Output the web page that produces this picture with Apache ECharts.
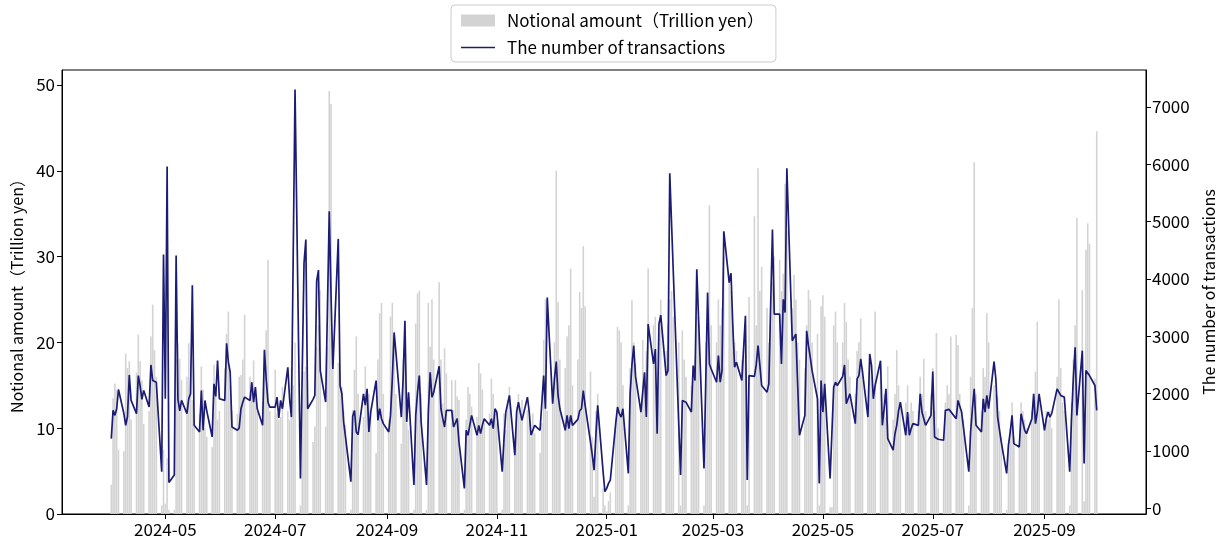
<!DOCTYPE html>
<html>
<head>
<meta charset="utf-8">
<script src="https://cdn.jsdelivr.net/npm/echarts@6/dist/echarts.min.js"></script>
<style>
  html, body { margin: 0; padding: 0; background: #fff; }
  #chart { width: 1219px; height: 541px; }
</style>
</head>
<body>
<div id="chart"></div>
<script>
// Business days from this start date (one value per weekday)
const startDate = [2024, 4, 1];

// Notional amount (Trillion yen), one value per business day
const notional = [
  3.4, 13.5, 15.2, 14.5, 7.5,   7.3, 18.7, 17.0, 17.8, 11.0,   16.5, 20.9, 17.8, 15.6, 10.5,   12.0, 20.7, 24.4, 19.1, 16.0,
  1.0, 7.5, 1.2, 6.5, 0.5,      0.5, 18.0, 19.9, 18.1, 15.6,   16.0, 19.9, 18.0, 13.3, 11.0,   11.7, 17.2, 14.5, 10.0, 9.0,
  7.8, 17.4, 14.0, 11.0, 12.0,  17.0, 21.0, 23.6, 15.0, 12.0,  11.7, 16.0, 16.2, 18.0, 23.2,   16.0, 14.0, 17.9, 13.7, 12.0,
  13.0, 16.6, 21.4, 29.6, 12.0, 16.8, 11.7, 11.0, 11.3, 14.8,  12.0, 11.0, 17.0, 15.0, 20.0,   1.0, 14.0, 16.6, 17.2, 13.0,
  8.4, 10.2, 19.5, 22.0, 26.1,  10.2, 19.5, 49.3, 47.8, 18.0,  17.6, 16.6, 14.8, 12.0, 10.4,   0.5, 12.1, 16.8, 20.7, 14.0,
  11.3, 17.2, 13.7, 14.0, 12.1, 7.1, 18.0, 23.4, 24.6, 14.0,   11.0, 23.0, 24.6, 20.3, 14.0,   8.2, 18.0, 21.4, 10.6, 9.8,
  0.5, 22.2, 25.7, 26.0, 14.0,  0.5, 24.6, 19.5, 25.0, 18.0,   27.0, 18.0, 12.9, 19.3, 16.4,   15.6, 12.1, 15.6, 13.7, 13.3,
  0.5, 11.0, 14.8, 14.0, 12.5,  11.3, 17.6, 16.4, 14.5, 11.0,  11.7, 15.8, 14.0, 11.7, 10.6,   0.5, 11.7, 9.8, 13.3, 14.8,
  9.0, 12.5, 14.0, 12.1, 13.3,  12.1, 11.3, 9.0, 11.7, 9.4,    7.1, 10.6, 20.3, 25.0, 12.0,    15.0, 20.0, 40.0, 24.7, 18.0,
  17.0, 20.7, 22.0, 28.6, 15.0, 18.0, 25.9, 24.0, 31.2, 24.2,  16.6, 9.0, 2.0, 12.0, 14.0,     3.0, 1.0, 0.3, 1.5, 2.5,
  11.0, 21.8, 21.4, 20.0, 15.0, 1.0, 17.0, 24.9, 20.0, 17.5,   12.0, 20.3, 16.0, 19.0, 28.6,   22.0, 23.0, 15.0, 21.0, 25.0,
  19.0, 22.0, 25.0, 26.0, 23.0, 20.0, 1.0, 21.4, 18.0, 16.0,   15.0, 17.0, 18.0, 23.0, 22.0,   1.0, 20.0, 24.0, 36.0, 22.0,
  20.0, 25.0, 22.0, 24.0, 30.0, 28.0, 26.0, 22.0, 20.0, 19.0,  18.0, 19.0, 22.0, 1.0, 25.3,    34.7, 22.0, 40.3, 26.0, 28.8,
  24.0, 20.0, 22.0, 27.0, 30.0, 29.6, 26.0, 28.0, 38.5, 33.0,  24.0, 27.9, 25.0, 20.0, 18.0,   17.0, 22.0, 26.1, 25.0, 20.0,
  21.0, 1.0, 24.2, 25.5, 23.0,  0.8, 0.8, 22.0, 23.6, 20.0,    20.0, 24.6, 22.4, 18.0, 16.0,   14.0, 19.0, 20.0, 22.8, 17.0,
  13.0, 18.3, 16.0, 15.0, 23.6, 17.0, 12.0, 14.0, 11.3, 17.2,  11.0, 14.0, 19.1, 15.0, 13.0,   13.0, 15.0, 11.7, 13.0, 12.0,
  12.0, 16.0, 14.0, 18.1, 12.0, 14.0, 17.0, 12.0, 21.1, 10.0,  9.0, 13.0, 15.0, 14.0, 20.7,    20.9, 19.7, 14.0, 12.0, 11.0,
  1.0, 16.0, 24.0, 41.0, 14.0,  12.0, 17.0, 16.0, 23.4, 20.0,  15.0, 14.0, 13.7, 12.0, 9.0,    0.5, 8.0, 10.0, 13.0, 9.0,
  8.0, 13.0, 12.0, 11.0, 10.0,  12.0, 14.0, 16.6, 22.4, 13.0,  10.0, 12.0, 11.0, 12.0, 10.0,   16.0, 25.0, 17.0, 13.0, 12.0,
  1.0, 13.0, 18.0, 22.0, 34.5,  26.1, 1.5, 30.8, 33.9, 31.5,   15.8, 44.6
];

// The number of transactions, one value per business day
const transactions = [
  1215, 1707, 1620, 1736, 2072,  1650, 1447, 1600, 2326, 1881,  1650, 2315, 2141, 1900, 2054,  1765, 2500, 2228, 2257, 2199,
  637, 4427, 1910, 5960, 451,    579, 4410, 1900, 1700, 1881,   1650, 1910, 2000, 3889, 1447,  1331, 2054, 1360, 1881, 1700,
  1244, 2170, 1950, 2575, 1910,  1881, 2876, 2550, 2373, 1418,  1360, 1400, 1736, 1850, 1939,  1881, 2199, 1852, 2112, 1736,
  1447, 2766, 2250, 1850, 1765,  1765, 1939, 1574, 1881, 1736,  2460, 1900, 1591, 1586, 7303,  521, 2400, 4282, 4688, 1736,
  1900, 1968, 3964, 4155, 2400,  1852, 3500, 5179, 3700, 2430,  4699, 2141, 1997, 1500, 1250,  463, 1600, 1707, 1331, 1285,
  1997, 1800, 2083, 1331, 1678,  2228, 1534, 1736, 1563, 1476,  1331, 1620, 2257, 3067, 2720,  1591, 2257, 3270, 1505, 2025,
  405, 1620, 2025, 2315, 1500,   405, 1678, 2373, 1939, 2025,   2477, 1736, 1563, 1418, 1707,  1707, 1418, 1418, 1563, 1157,
  347, 1360, 1273, 1244, 1620,   1273, 1447, 1302, 1450, 1563,  1447, 1563, 1389, 1736, 1678,  637, 1215, 1678, 1707, 1968,
  926, 1678, 1852, 1678, 1534,   1939, 1678, 1273, 1273, 1447,  1360, 1389, 2315, 1736, 3675,  1823, 2257, 2558, 1968, 1736,
  1360, 1620, 1389, 1620, 1447,  1550, 1700, 1736, 2054, 1800,  1157, 926, 665, 1273, 1794,    637, 289, 347, 434, 492,
  1476, 1765, 1650, 1591, 1736,  608, 2000, 2500, 2836, 2300,   1678, 2025, 2373, 1591, 3212,  2517, 2778, 1302, 3212, 3368,
  2315, 2401, 5845, 4967, 4090,  1457, 579, 1880, 1910, 1850,   1678, 2488, 2228, 4167, 3300,  694, 2228, 3762, 2517, 2430,
  2199, 2662, 2199, 2400, 4832,  3935, 4100, 3183, 2460, 2546,  2228, 2200, 3356, 492, 2315,   2300, 2500, 2836, 2500, 2141,
  2025, 2170, 2170, 4861, 3385,  3385, 2517, 3646, 3414, 5932,  2922, 2980, 3038, 2150, 1273,  1620, 3096, 2836, 2633, 2401,
  1910, 434, 2228, 1678, 2170,   521, 521, 2112, 2199, 2141,    2300, 2500, 1823, 1910, 1997,  1476, 2257, 2315, 2604, 2373,
  1591, 2691, 2488, 1910, 2141,  2575, 1447, 1736, 2083, 1215,  1013, 1300, 1447, 1700, 1852,  1273, 1678, 1273, 1389, 1476,
  1447, 1997, 1678, 1707, 1447,  1620, 2384, 1244, 1215, 1204,  1186, 1707, 1720, 1725, 1736,  1563, 1881, 1852, 1678, 1650,
  637, 1331, 1736, 2083, 1447,   1331, 1910, 1678, 1968, 1736,  2558, 2257, 1591, 1563, 1157,  608, 1100, 1331, 1620, 1128,
  1070, 1650, 1505, 1360, 1302,  1563, 1997, 1476, 1678, 1997,  1360, 1563, 1678, 1591, 1650,  2083, 2025, 1968, 1956, 1939,
  637, 1563, 2257, 2807, 1620,   2749, 781, 2401, 2430, 2315,   2141, 1707
];

// Axis tick labels
const xTickLabels = ['2024-05', '2024-07', '2024-09', '2024-11', '2025-01', '2025-03', '2025-05', '2025-07', '2025-09'];
const leftTicks = [0, 10, 20, 30, 40, 50];
const rightTicks = [0, 1000, 2000, 3000, 4000, 5000, 6000, 7000];

// Build business-day timestamps (calendar only)
function businessDays(ymd, n) {
  const out = [];
  const d = new Date(ymd[0], ymd[1] - 1, ymd[2]);
  while (out.length < n) {
    const wd = d.getDay();
    if (wd !== 0 && wd !== 6) out.push(d.getTime());
    d.setDate(d.getDate() + 1);
  }
  return out;
}
const dates = businessDays(startDate, notional.length);
const barData = dates.map((t, i) => [t, notional[i]]);
const lineData = dates.map((t, i) => [t, transactions[i]]);

const span = dates[dates.length - 1] - dates[0];
const xMin = dates[0] - span * 0.05;
const xMax = dates[dates.length - 1] + span * 0.05;
const xTickValues = xTickLabels.map(s => new Date(+s.slice(0, 4), +s.slice(5, 7) - 1, 1).getTime());

function pad(n) { return n < 10 ? '0' + n : '' + n; }

const FONT = '"Noto Sans CJK JP", "Noto Sans", sans-serif';
const LINE_COLOR = '#1c1c74';

const chart = echarts.init(document.getElementById('chart'), null, { renderer: 'canvas' });
chart.setOption({
  animation: false,
  backgroundColor: '#fff',
  textStyle: { fontFamily: FONT, color: '#000' },
  grid: {
    left: 62, right: 73, top: 70, bottom: 27,
    containLabel: false, outerBoundsMode: 'none',
    show: true, borderColor: '#000', borderWidth: 1, backgroundColor: 'transparent'
  },
  legend: {
    orient: 'vertical',
    left: 451, top: 5,
    itemWidth: 34, itemHeight: 12, itemGap: 10,
    padding: [7, 12, 6, 10],
    borderColor: '#cccccc', borderWidth: 1, borderRadius: 4,
    textStyle: { fontFamily: FONT, fontSize: 17, color: '#000', padding: [0, 0, 0, 7] },
    data: [
      { name: 'Notional amount（Trillion yen）', icon: 'rect' },
      { name: 'The number of transactions', icon: 'path://M0,0 L0.01,0 Z M0,5.2 L34,5.2 L34,6.8 L0,6.8 Z M0,12 L0.01,12 Z' }
    ]
  },
  xAxis: {
    type: 'value',
    min: xMin, max: xMax,
    splitLine: { show: false },
    axisLine: { show: true, onZero: false, lineStyle: { color: '#000', width: 1 } },
    axisTick: { show: true, inside: false, length: 5, customValues: xTickValues, lineStyle: { color: '#000' } },
    axisLabel: {
      customValues: xTickValues,
      fontFamily: FONT, fontSize: 17, color: '#000', margin: 7,
      formatter: function (v) { const d = new Date(v); return d.getFullYear() + '-' + pad(d.getMonth() + 1); }
    }
  },
  yAxis: [
    {
      type: 'value', min: 0, max: 51.75, position: 'left',
      name: 'Notional amount（Trillion yen）',
      nameLocation: 'middle', nameRotate: 90, nameGap: 35,
      nameTextStyle: { fontFamily: FONT, fontSize: 16, color: '#000' },
      splitLine: { show: false },
      axisLine: { show: true, lineStyle: { color: '#000' } },
      axisTick: { show: true, length: 5, customValues: leftTicks, lineStyle: { color: '#000' } },
      axisLabel: { customValues: leftTicks, fontFamily: FONT, fontSize: 17, color: '#000', margin: 7 }
    },
    {
      type: 'value', min: -100, max: 7645, position: 'right',
      name: 'The number of transactions',
      nameLocation: 'middle', nameRotate: 90, nameGap: 51,
      nameTextStyle: { fontFamily: FONT, fontSize: 16, color: '#000' },
      splitLine: { show: false },
      axisLine: { show: true, onZero: false, lineStyle: { color: '#000' } },
      axisTick: { show: true, length: 5, customValues: rightTicks, lineStyle: { color: '#000' } },
      axisLabel: {
        customValues: rightTicks, fontFamily: FONT, fontSize: 17, color: '#000', margin: 6,
        formatter: function (v) { return String(v); }
      }
    }
  ],
  series: [
    {
      name: 'Notional amount（Trillion yen）',
      type: 'bar',
      xAxisIndex: 0, yAxisIndex: 0,
      data: barData,
      barWidth: 1.6,
      itemStyle: { color: '#d3d3d3' },
      emphasis: { disabled: true }
    },
    {
      name: 'The number of transactions',
      type: 'line',
      xAxisIndex: 0, yAxisIndex: 1,
      data: lineData,
      symbol: 'none',
      lineStyle: { color: LINE_COLOR, width: 1.7 },
      itemStyle: { color: LINE_COLOR },
      emphasis: { disabled: true },
      z: 3
    }
  ]
});
</script>
</body>
</html>
